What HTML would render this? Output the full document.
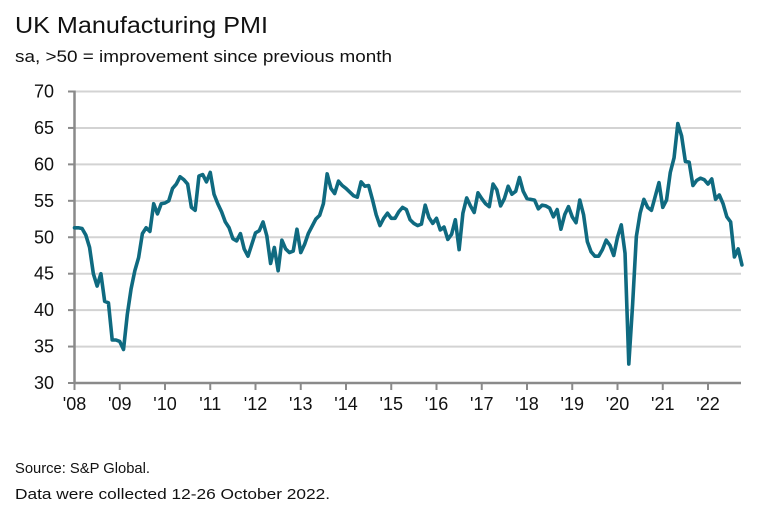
<!DOCTYPE html>
<html><head><meta charset="utf-8"><style>
body{margin:0;background:#fff;}
svg{display:block;font-family:"Liberation Sans",sans-serif;}
</style></head><body>
<svg id="c" width="763" height="511">
<text x="15" y="33" font-size="23" textLength="253" lengthAdjust="spacingAndGlyphs" fill="#111">UK Manufacturing PMI</text>
<text x="15" y="62" font-size="17" textLength="377" lengthAdjust="spacingAndGlyphs" fill="#111">sa, &gt;50 = improvement since previous month</text>
<text x="15" y="473" font-size="15" textLength="135" lengthAdjust="spacingAndGlyphs" fill="#111">Source: S&amp;P Global.</text>
<text x="15" y="499" font-size="15" textLength="315" lengthAdjust="spacingAndGlyphs" fill="#111">Data were collected 12-26 October 2022.</text>
<g id="grid"></g><g id="axes"></g><g id="series"></g>
</svg>
<script>
const yTicks=[30,35,40,45,50,55,60,65,70];
const yearLabels=["'08","'09","'10","'11","'12","'13","'14","'15","'16","'17","'18","'19","'20","'21","'22"];
const startYear=2008;
const pmi2008=[51.3,51.3,51.2,50.3,48.6,45.0,43.3,45.0,41.2,41.0,35.9,35.9];
const pmi2009=[35.7,34.6,39.4,42.9,45.4,47.2,50.5,51.3,50.8,54.6,53.2,54.6];
const pmi2010=[54.7,55.0,56.7,57.3,58.3,57.9,57.3,54.1,53.7,58.4,58.6,57.6];
const pmi2011=[58.9,55.9,54.6,53.5,52.1,51.3,49.8,49.5,50.5,48.4,47.4,49.0];
const pmi2012=[50.6,50.9,52.1,50.2,46.4,48.6,45.4,49.6,48.4,47.9,48.1,51.1];
const pmi2013=[47.9,49.0,50.5,51.5,52.5,53.0,54.6,58.7,56.7,56.0,57.7,57.1];
const pmi2014=[56.7,56.2,55.7,55.5,57.6,57.0,57.1,55.2,53.1,51.6,52.6,53.3];
const pmi2015=[52.6,52.6,53.5,54.1,53.8,52.4,51.9,51.6,51.8,54.4,52.7,51.9];
const pmi2016=[52.6,51.0,51.4,49.7,50.4,52.4,48.3,53.3,55.4,54.3,53.4,56.1];
const pmi2017=[55.3,54.6,54.2,57.3,56.5,54.3,55.3,57.0,55.9,56.3,58.2,56.3];
const pmi2018=[55.3,55.2,55.1,53.9,54.4,54.3,54.0,52.8,53.8,51.1,53.1,54.2];
const pmi2019=[52.8,52.0,55.1,53.1,49.4,48.0,47.4,47.4,48.3,49.6,48.9,47.5];
const pmi2020=[50.0,51.7,47.8,32.6,40.7,50.1,53.3,55.2,54.1,53.7,55.6,57.5];
const pmi2021=[54.1,55.1,58.9,60.9,65.6,63.9,60.4,60.3,57.1,57.8,58.1,57.9];
const pmi2022=[57.3,58.0,55.2,55.8,54.6,52.8,52.1,47.3,48.4,46.2];
const values=[].concat(pmi2008,pmi2009,pmi2010,pmi2011,pmi2012,pmi2013,pmi2014,pmi2015,pmi2016,pmi2017,pmi2018,pmi2019,pmi2020,pmi2021,pmi2022);

const NS="http://www.w3.org/2000/svg";
const X0=74.5,YW=45.25,XR=741,YB=383,YT=91.5;
const xs=t=>X0+t*YW;
const ys=v=>YB-(v-30)*(YB-YT)/40;
function mk(tag,attrs,parent){const e=document.createElementNS(NS,tag);for(const k in attrs)e.setAttribute(k,attrs[k]);parent.appendChild(e);return e;}
const grid=document.getElementById('grid'),axes=document.getElementById('axes'),series=document.getElementById('series');
yTicks.forEach(v=>{
  const y=ys(v);
  if(v>30){const g=mk('line',{x1:X0,x2:XR,y1:y,y2:y,stroke:'#d3d3d3','stroke-width':2},grid);
  
  }
  const tk=mk('line',{x1:68,x2:X0,y1:y,y2:y,stroke:'#8a8a8a','stroke-width':2},axes);
  
  
  const t=mk('text',{x:54,y:y+6,'font-size':18,'text-anchor':'end',fill:'#111'},axes);
  t.textContent=v;
  
  
});
const ya=mk('line',{x1:X0,x2:X0,y1:YT-1,y2:YB,stroke:'#8a8a8a','stroke-width':2.5},axes);


const xa=mk('line',{x1:X0-1,x2:XR,y1:YB,y2:YB,stroke:'#8a8a8a','stroke-width':2.5},axes);


yearLabels.forEach((l,i)=>{
  const x=xs(i);
  const tk=mk('line',{x1:x,x2:x,y1:YB,y2:YB+7,stroke:'#8a8a8a','stroke-width':2},axes);
  
  
  const t=mk('text',{x:x,y:YB+27,'font-size':18,'text-anchor':'middle',fill:'#111'},axes);
  t.textContent=l;
  
  
});
const pts=values.map((v,i)=>xs(i/12).toFixed(2)+','+ys(v).toFixed(2)).join(' ');
const pl=mk('polyline',{points:pts,fill:'none',stroke:'#0f6a80','stroke-width':3.6,'stroke-linejoin':'round','stroke-linecap':'round'},series);


</script>
</body></html>
